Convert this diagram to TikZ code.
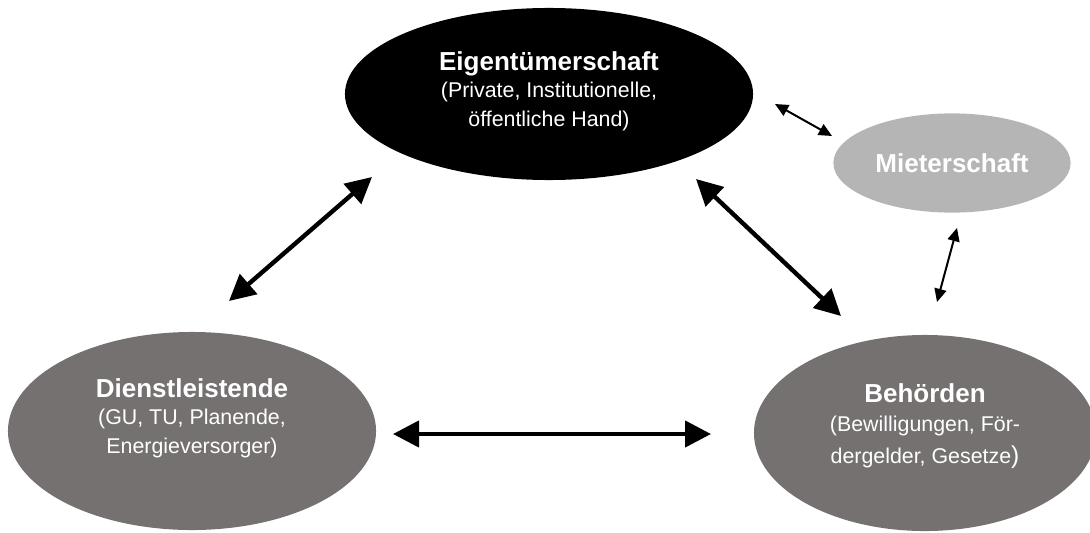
\documentclass[tikz,border=0pt]{standalone}
\usepackage{fontspec}
\setmainfont{Liberation Sans}
\usetikzlibrary{shapes.geometric, arrows.meta}

\definecolor{darkgrey}{RGB}{118,113,113}
\definecolor{lightgrey}{RGB}{181,181,181}

\newcommand{\titlefont}{\fontsize{18.5}{20.6}\selectfont\bfseries}
\newcommand{\subfont}{\fontsize{15.2}{20.6}\selectfont}

\begin{document}
\begin{tikzpicture}[
    x=0.025cm, y=-0.025cm,
    party/.style={ellipse, inner sep=0pt, align=center, text=white, font=\subfont},
    link/.style={{Triangle[length=0.65cm, width=0.65cm]}-{Triangle[length=0.65cm, width=0.65cm]}, line width=0.11cm},
    thinlink/.style={{Triangle[length=0.33cm, width=0.3cm]}-{Triangle[length=0.33cm, width=0.3cm]}, line width=0.05cm}
]
\useasboundingbox (0,0) rectangle (1090,532);

% Parties
\node[party, fill=black, minimum width=10.2cm, minimum height=4.3cm, text depth=0.26cm] (eigen) at (549,94)
    {{\titlefont Eigentümerschaft}\\[-1.4pt] (Private, Institutionelle,\\ öffentliche Hand)};
\node[party, fill=lightgrey, minimum width=5.93cm, minimum height=2.48cm, font=\titlefont] (mieter) at (952,163) {Mieterschaft};
\node[party, fill=darkgrey, minimum width=9.2cm, minimum height=4.95cm, text depth=0.75cm] (dienst) at (192,431)
    {{\titlefont Dienstleistende}\\[-1.4pt] (GU, TU, Planende,\\ Energieversorger)};
\node[party, fill=darkgrey, minimum width=8.55cm, minimum height=4.9cm, text depth=0.48cm] (behoerde) at (925,433)
    {{\titlefont Behörden}\\[0.6pt] (Bewilligungen, För-\\[2pt] dergelder, Gesetze{\fontsize{17.4}{20.6}\selectfont)}};

% Arrow ends
\coordinate (eigen-sw) at (372,177);
\coordinate (dienst-ne) at (229,301);
\coordinate (eigen-se) at (696,179);
\coordinate (behoerde-nw) at (841,316);
\coordinate (dienst-e) at (393,434);
\coordinate (behoerde-w) at (711,434);
\coordinate (eigen-e) at (775,104);
\coordinate (mieter-w) at (832,136);
\coordinate (mieter-s) at (957,228);
\coordinate (behoerde-n) at (937,302);

% Connections
\draw[link] (eigen-sw) -- (dienst-ne);
\draw[link] (eigen-se) -- (behoerde-nw);
\draw[link] (dienst-e) -- (behoerde-w);
\draw[thinlink] (eigen-e) -- (mieter-w);
\draw[thinlink] (mieter-s) -- (behoerde-n);

\end{tikzpicture}
\end{document}
